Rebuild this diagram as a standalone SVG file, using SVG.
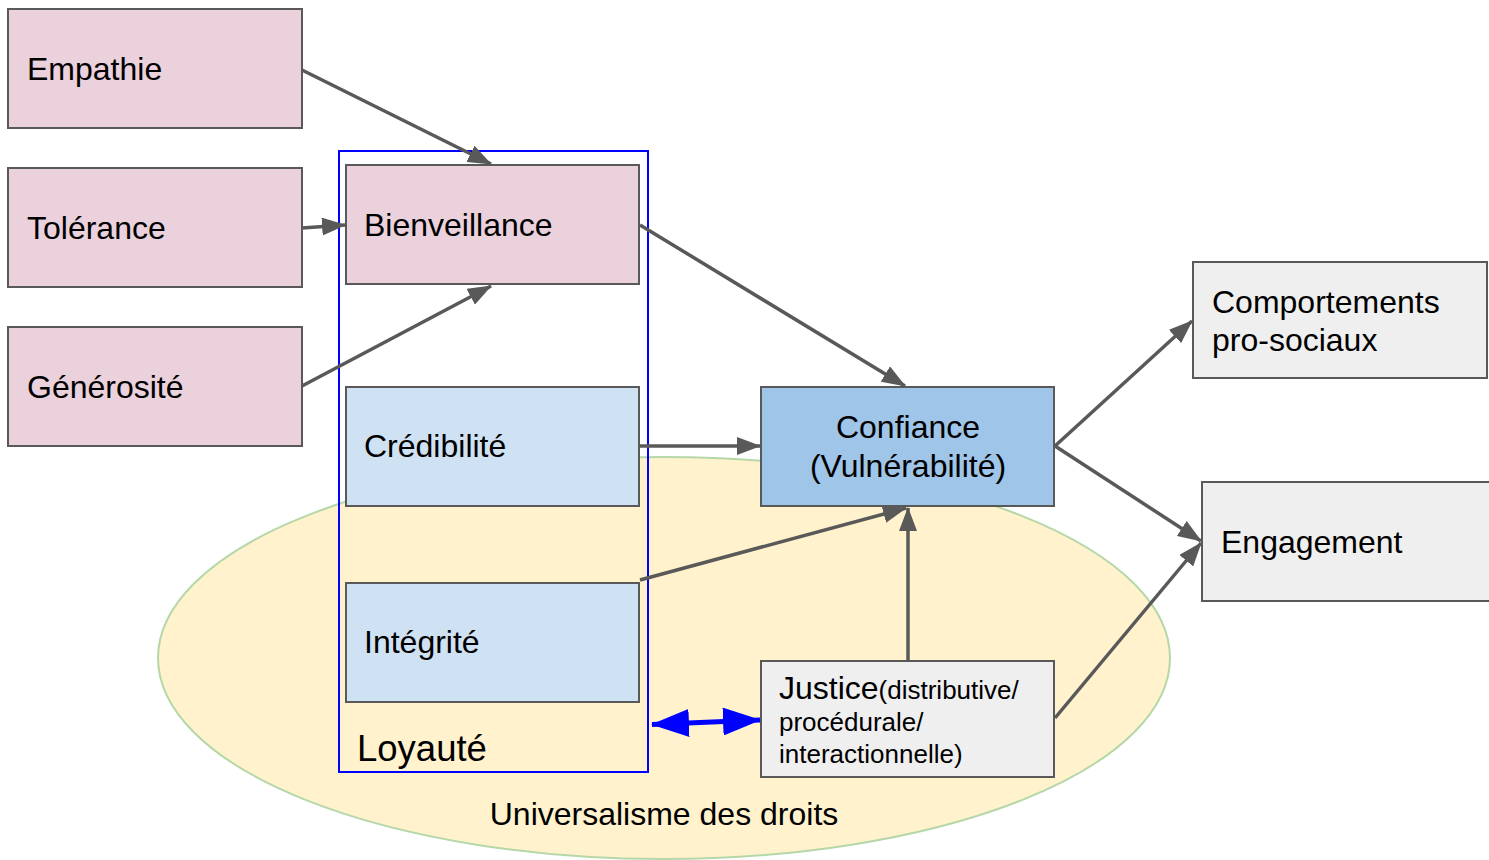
<svg xmlns="http://www.w3.org/2000/svg" width="1489" height="860" viewBox="0 0 1489 860">
  <style>
    .box { stroke: #595959; stroke-width: 2; }
    .pink { fill: #ead1dc; }
    .lblue { fill: #cfe2f3; }
    .blue { fill: #9fc5e8; }
    .grey { fill: #efefef; }
    text { font-family: "Liberation Sans", Arial, sans-serif; font-size: 32px; fill: #000; }
    .small { font-size: 26px; }
    .big { font-size: 36.5px; }
    .link { fill: none; stroke: #595959; stroke-width: 3.5; marker-end: url(#head); }
  </style>
  <defs>
    <marker id="head" markerUnits="userSpaceOnUse" viewBox="0 0 24 18" refX="23" refY="9" markerWidth="24" markerHeight="18" orient="auto">
      <path d="M0,0 L24,9 L0,18 Z" fill="#595959"/>
    </marker>
    <marker id="bhead" markerUnits="userSpaceOnUse" viewBox="0 0 38 28" refX="37" refY="14" markerWidth="38" markerHeight="28" orient="auto-start-reverse">
      <path d="M0,0 L38,14 L0,28 Z" fill="#0000ff"/>
    </marker>
  </defs>

  <!-- background scope: universalism ellipse -->
  <g id="universalisme">
    <ellipse cx="664" cy="658" rx="506" ry="201" fill="#fff2cc" stroke="#b6d7a8" stroke-width="2"/>
    <text x="664" y="825" text-anchor="middle">Universalisme des droits</text>
  </g>

  <!-- loyalty frame -->
  <g id="loyaute">
    <rect x="339" y="151" width="309" height="621" fill="none" stroke="#0000ff" stroke-width="2"/>
    <text class="big" x="357" y="761">Loyauté</text>
  </g>

  <g id="empathie">
    <rect class="box pink" x="8" y="9" width="294" height="119"/>
    <text x="27" y="80">Empathie</text>
  </g>
  <g id="tolerance">
    <rect class="box pink" x="8" y="168" width="294" height="119"/>
    <text x="27" y="239">Tolérance</text>
  </g>
  <g id="generosite">
    <rect class="box pink" x="8" y="327" width="294" height="119"/>
    <text x="27" y="398">Générosité</text>
  </g>
  <g id="bienveillance">
    <rect class="box pink" x="346" y="165" width="293" height="119"/>
    <text x="364" y="236">Bienveillance</text>
  </g>
  <g id="credibilite">
    <rect class="box lblue" x="346" y="387" width="293" height="119"/>
    <text x="364" y="457">Crédibilité</text>
  </g>
  <g id="integrite">
    <rect class="box lblue" x="346" y="583" width="293" height="119"/>
    <text x="364" y="653">Intégrité</text>
  </g>
  <g id="confiance">
    <rect class="box blue" x="761" y="387" width="293" height="119"/>
    <text x="908" y="438" text-anchor="middle">Confiance</text>
    <text x="908" y="477" text-anchor="middle">(Vulnérabilité)</text>
  </g>
  <g id="justice">
    <rect class="box grey" x="761" y="661" width="293" height="116"/>
    <text x="779" y="699">Justice<tspan class="small">(distributive/</tspan></text>
    <text class="small" x="779" y="731">procédurale/</text>
    <text class="small" x="779" y="763">interactionnelle)</text>
  </g>
  <g id="comportements">
    <rect class="box grey" x="1193" y="262" width="294" height="116"/>
    <text x="1212" y="313">Comportements</text>
    <text x="1212" y="351">pro-sociaux</text>
  </g>
  <g id="engagement">
    <rect class="box grey" x="1202" y="482" width="294" height="119"/>
    <text x="1221" y="553">Engagement</text>
  </g>

  <g id="connectors">
    <line class="link" x1="302" y1="70" x2="491" y2="164"/>
    <line class="link" x1="302" y1="228" x2="345" y2="225"/>
    <line class="link" x1="302" y1="386" x2="491" y2="286"/>
    <line class="link" x1="640" y1="225" x2="905" y2="386"/>
    <line class="link" x1="640" y1="446" x2="760" y2="446"/>
    <line class="link" x1="640" y1="580" x2="906" y2="508"/>
    <line class="link" x1="908" y1="660" x2="908" y2="508"/>
    <line class="link" x1="1055" y1="446" x2="1192" y2="321"/>
    <line class="link" x1="1055" y1="446" x2="1201" y2="541"/>
    <line class="link" x1="1055" y1="718" x2="1201" y2="543"/>
    <line x1="652" y1="724.5" x2="760" y2="720" stroke="#0000ff" stroke-width="5" marker-start="url(#bhead)" marker-end="url(#bhead)"/>
  </g>
</svg>
